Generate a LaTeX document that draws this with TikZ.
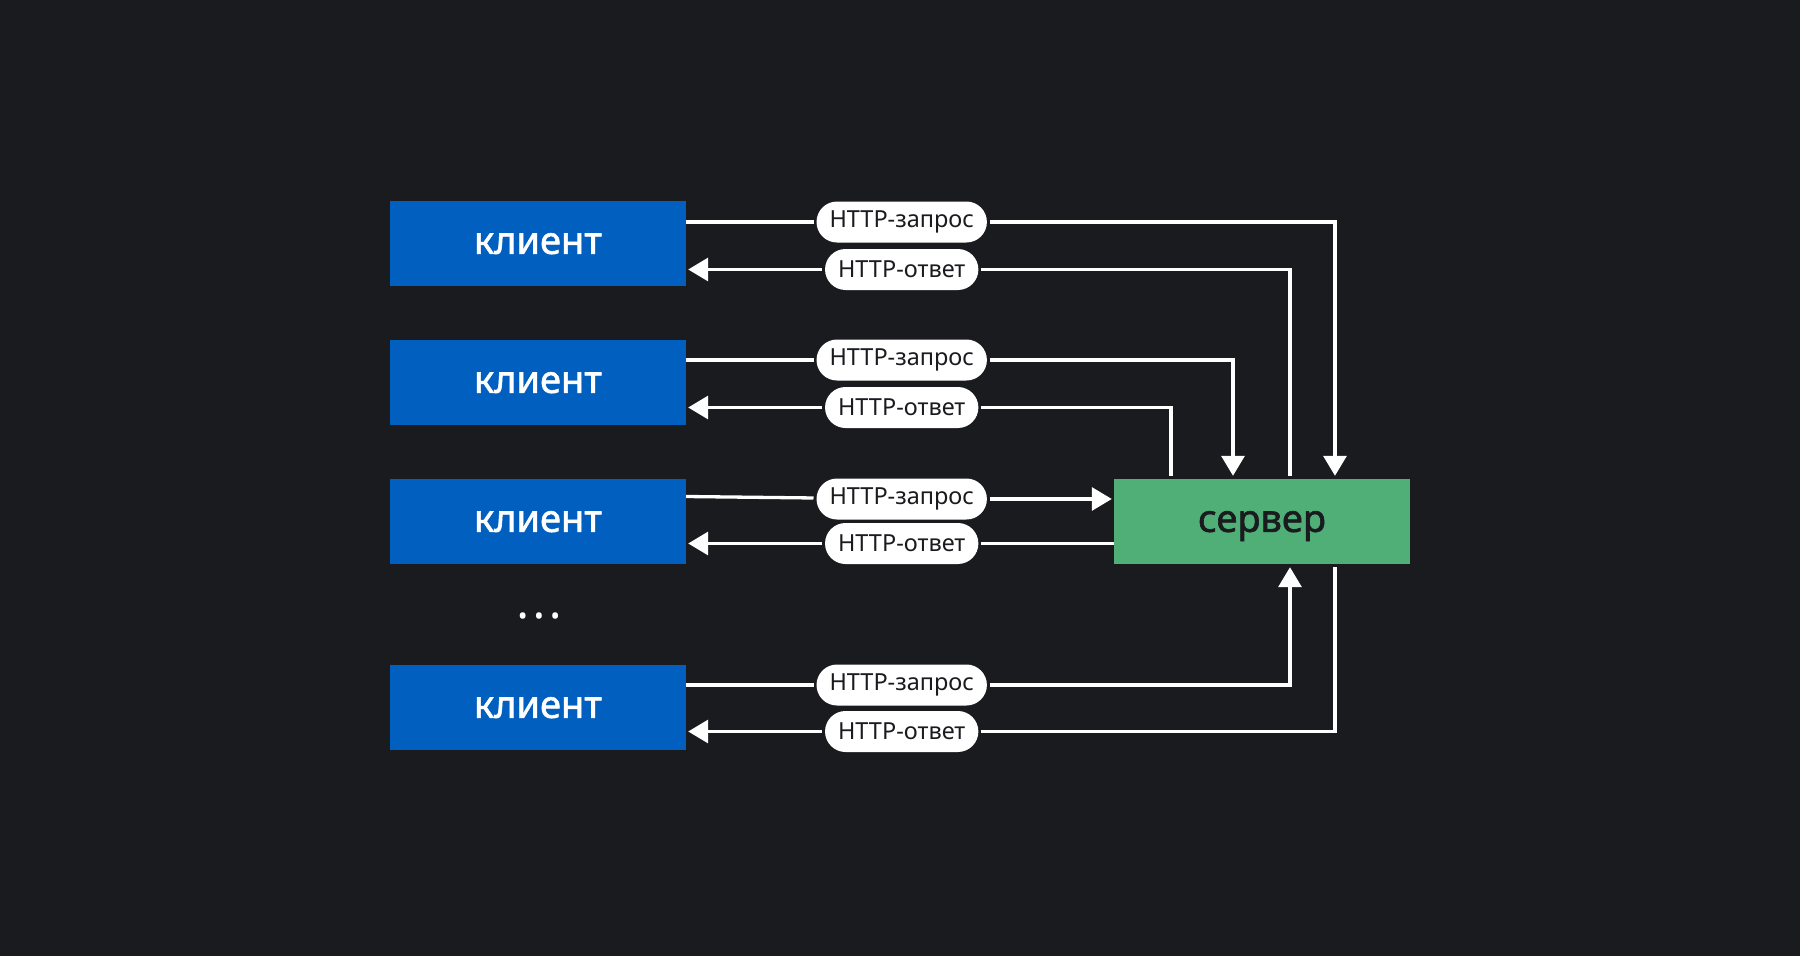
\documentclass[tikz,border=0pt]{standalone}
\usepackage{fontspec}
\setmainfont{Noto Sans}
\newfontfamily\boxfont{Noto Sans}[FakeBold=1.6]
\usetikzlibrary{arrows.meta}
\definecolor{bg}{HTML}{1A1B1F}
\definecolor{clientblue}{HTML}{005FBF}
\definecolor{servergreen}{HTML}{4FAF77}
\tikzset{
  box/.style={minimum width=296pt, minimum height=85pt, inner sep=0pt,
    text depth=0pt, font=\boxfont\fontsize{38}{38}\selectfont},
  client/.style={box, fill=clientblue, text=white},
  server/.style={box, fill=servergreen, text=bg},
  pill/.style={fill=white, text=bg, rounded corners=20.5pt, minimum height=41pt,
    inner xsep=13pt, inner ysep=0pt, outer sep=3pt,
    font=\fontsize{23.5}{23.5}\selectfont},
  link/.style={draw=white, line width=3.3pt},
  tip/.style={-{Triangle[length=20pt,width=23pt]}}
}
\begin{document}
\begin{tikzpicture}[x=1pt,y=-1pt]
  \fill[bg] (0,0) rectangle (1800,956);
  \draw
    (538,243.5) node[client] (c1){клиент}
    (538,382.5) node[client] (c2){клиент}
    (538,521.5) node[client] (c3){клиент}
    (538,707.5) node[client] (c4){клиент}
    (1262,521.5) node[server] (srv){сервер}
    (539,619) node[text=white, text depth=0pt, font=\fontsize{26}{26}\selectfont] (dots){•\hspace{6.5pt}•\hspace{6.5pt}•};
  \draw
    (901.7,222) node[pill] (q1){HTTP-запрос}
    (901.7,269.5) node[pill] (a1){HTTP-ответ}
    (901.7,360) node[pill] (q2){HTTP-запрос}
    (901.7,407.5) node[pill] (a2){HTTP-ответ}
    (901.7,499) node[pill] (q3){HTTP-запрос}
    (901.7,543.5) node[pill] (a3){HTTP-ответ}
    (901.7,685) node[pill] (q4){HTTP-запрос}
    (901.7,731.5) node[pill] (a4){HTTP-ответ};
  \begin{scope}[link]
    \draw (c1.east |- q1) -- (q1);
    \draw (c2.east |- q2) -- (q2);
    \draw ([yshift=25pt]c3.east) -- (q3);
    \draw (c4.east |- q4) -- (q4);
    \draw[tip, shorten >=3pt] (q1) -| ([xshift=73pt]srv.north);
    \draw[tip, shorten >=3pt] (q2) -| ([xshift=-29pt]srv.north);
    \draw[tip, shorten >=2pt] (q3) -- (srv.west |- q3);
    \draw[tip, shorten >=3pt] (q4) -| ([xshift=28pt]srv.south);
    \draw[shorten <=3pt] ([xshift=28pt]srv.north) |- (a1);
    \draw[shorten <=3pt] ([xshift=-91pt]srv.north) |- (a2);
    \draw (srv.west |- a3) -- (a3);
    \draw[shorten <=3pt] ([xshift=73pt]srv.south) |- (a4);
    \draw[tip, shorten >=2pt] (a1) -- (c1.east |- a1);
    \draw[tip, shorten >=2pt] (a2) -- (c2.east |- a2);
    \draw[tip, shorten >=2pt] (a3) -- (c3.east |- a3);
    \draw[tip, shorten >=2pt] (a4) -- (c4.east |- a4);
  \end{scope}
\end{tikzpicture}
\end{document}
